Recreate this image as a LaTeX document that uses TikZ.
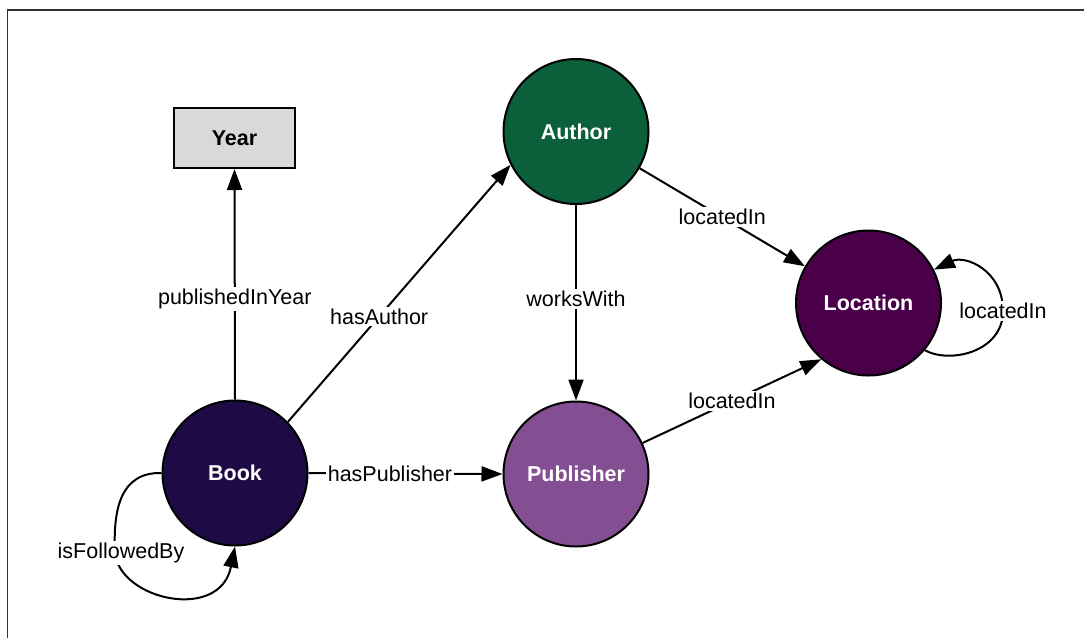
\documentclass[tikz,border=0pt]{standalone}
\usepackage{fontspec}
\setmainfont{Liberation Sans}
\usetikzlibrary{arrows.meta}
\definecolor{bookc}{HTML}{1E0B45}
\definecolor{authorc}{HTML}{0B5F3B}
\definecolor{pubc}{HTML}{834F92}
\definecolor{locc}{HTML}{4A0049}
\definecolor{yearc}{HTML}{D9D9D9}
\definecolor{framec}{HTML}{333333}
\begin{document}
\begin{tikzpicture}[x=1pt,y=-1pt,
  every node/.style={font=\fontsize{21.5}{25}\selectfont},
  cnode/.style={circle, draw=black, line width=2pt, minimum size=145pt, inner sep=0pt, text=white, font=\fontsize{21.5}{25}\selectfont\bfseries},
  ynode/.style={rectangle, draw=black, fill=yearc, line width=2pt, minimum width=121pt, minimum height=60pt, font=\fontsize{21.5}{25}\selectfont\bfseries},
  edge/.style={line width=2pt, -{Triangle[length=21pt,width=15pt]}},
  lbl/.style={fill=white, inner sep=2pt, text=black}]
\useasboundingbox (0,0) rectangle (1084,638);
\draw[framec, line width=1.5pt] (7.5,638) -- (7.5,10) -- (1084,10);

\node[ynode] (Year) at (234.5,138) {Year};
\node[cnode, fill=authorc] (Author) at (576,131.5) {Author};
\node[cnode, fill=locc] (Location) at (868.5,303) {Location};
\node[cnode, fill=bookc] (Book) at (235,473) {Book};
\node[cnode, fill=pubc] (Publisher) at (576,474) {Publisher};

\draw[edge] (Book.north) -- node[lbl, pos=0.437] (lPY) {publishedInYear} (Year.south);
\draw[edge] (Book.44) -- node[lbl, pos=0.41] (lHA) {hasAuthor} (Author.207);
\draw[edge] (Book.east) -- node[lbl, pos=0.42] (lHP) {hasPublisher} (Publisher.west);
\draw[edge] (Author.south) -- node[lbl, pos=0.48] (lWW) {worksWith} (Publisher.north);
\draw[edge] (Author.-30) -- node[lbl, pos=0.5] (lAL) {locatedIn} (Location.150);
\draw[edge] (Publisher.25) -- node[lbl, pos=0.5] (lPL) {locatedIn} (Location.230);

\draw[edge] (Location.-40) .. controls (950,364) and (1003,352) .. (1003,311)
  .. controls (1003,270) and (965,255) .. (Location.27);
\node[lbl] (lLL) at (1003,311) {locatedIn};

\draw[edge] (Book.180) .. controls (120,472) and (113,510) .. (115,553)
  .. controls (120,600) and (220,622) .. (Book.-90);
\node[lbl] (lBB) at (121,553) {isFollowedBy};
\end{tikzpicture}
\end{document}
